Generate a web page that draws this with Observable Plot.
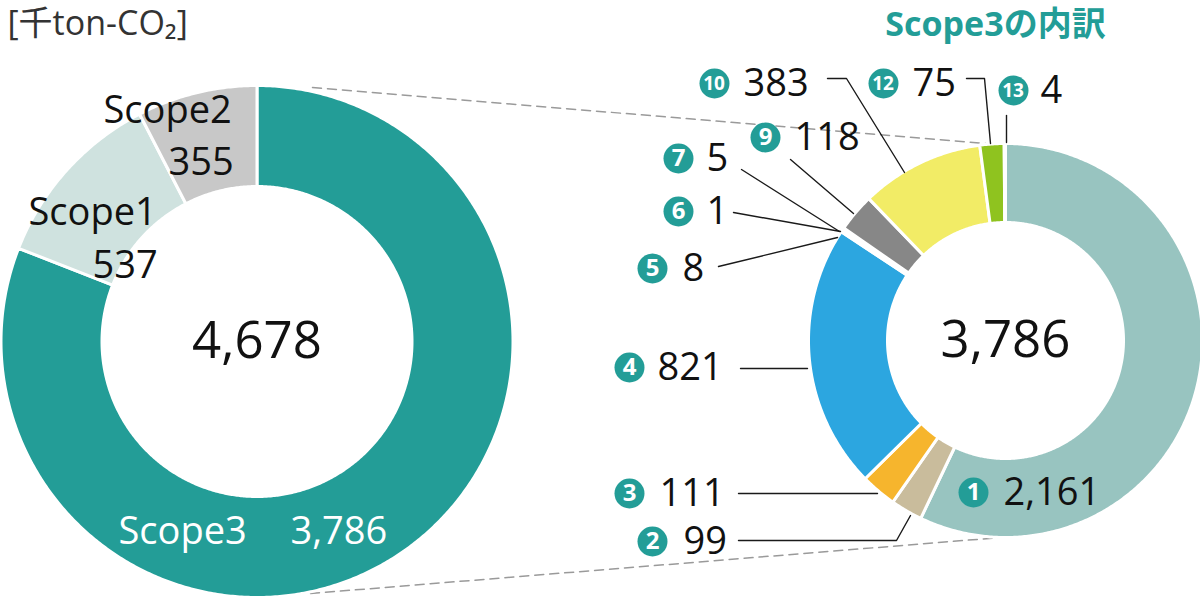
<!DOCTYPE html>
<html><head><meta charset="utf-8">
<script src="https://cdn.jsdelivr.net/npm/d3@7"></script>
<script src="https://cdn.jsdelivr.net/npm/@observablehq/plot@0.6"></script>
<style>body{margin:0;background:#fff;} svg{display:block}</style>
</head><body><div id="chart"></div>
<script>
// ---- data ----
const scopeNames = ["Scope3", "Scope1", "Scope2"];
const scopeValues = [3786, 537, 355];
const scopeColors = ["#239d97", "#cfe2df", "#c8c8c8"];
const catIds = ["1", "2", "3", "4", "5", "6", "7", "9", "10", "12", "13"];
const catValues = [2161, 99, 111, 821, 8, 1, 5, 118, 383, 75, 4];
const catColors = ["#98c4c0", "#c9bc9c", "#f6b52d", "#2ca6e0", "#ffffff", "#ffffff", "#ffffff", "#878787", "#f2ec66", "#8fc31f", "#ffffff"];
const unitLabel = "[千ton-CO₂]";
const breakdownTitle = "Scope3の内訳";

// ---- layout ----
const leftRing = {cx: 256.5, cy: 341, r0: 155, r1: 256};
const rightRing = {cx: 1005, cy: 340, r0: 118, r1: 197};
const labelLayout = {
  "1": {cx: 973, cy: 492, tx: 1003, line: []},
  "2": {cx: 652, cy: 541, tx: 683, line: [[738, 540], [896, 540], [910, 515]]},
  "3": {cx: 629, cy: 493, tx: 659, line: [[738, 493], [877, 493]]},
  "4": {cx: 629, cy: 367, tx: 657, line: [[740, 368], [807, 368]]},
  "5": {cx: 652, cy: 268, tx: 682, line: [[718, 266], [837, 237]]},
  "6": {cx: 678, cy: 211, tx: 706, line: [[733, 212], [840, 231]]},
  "7": {cx: 678, cy: 158, tx: 706, line: [[741, 169], [839, 231]]},
  "9": {cx: 765, cy: 137, tx: 794, line: [[790, 159], [853, 213]]},
  "10": {cx: 714, cy: 83, tx: 743, line: [[827, 78], [846, 78], [904, 172]]},
  "12": {cx: 883, cy: 83, tx: 912, line: [[966, 78], [984, 78], [990, 143]]},
  "13": {cx: 1013, cy: 90, tx: 1040, line: [[1006, 115], [1006, 142]]}
};
const scopeLabelLayout = {
  "Scope2": {namePos: [103, 110], valuePos: [168, 162], ink: "#111"},
  "Scope1": {namePos: [28, 212], valuePos: [92, 265], ink: "#111"},
  "Scope3": {namePos: [118, 531], valuePos: [290, 531], ink: "#fff"}
};
const dashLayout = [[[312, 87], [985, 143]], [[310, 593], [1000, 537]]];

const fmt = d3.format(",");

function ringPoints(values, ids, colors, ring) {
  const arcs = d3.pie().sort(null).value(d => d)(values);
  const pts = [];
  arcs.forEach((a, i) => {
    const n = Math.max(2, Math.ceil((a.endAngle - a.startAngle) / (Math.PI / 360)));
    for (let k = 0; k <= n; k++) {
      const t = a.startAngle + (a.endAngle - a.startAngle) * k / n;
      pts.push({id: ids[i], color: colors[i], x: ring.cx + ring.r1 * Math.sin(t), y: ring.cy - ring.r1 * Math.cos(t)});
    }
    for (let k = n; k >= 0; k--) {
      const t = a.startAngle + (a.endAngle - a.startAngle) * k / n;
      pts.push({id: ids[i], color: colors[i], x: ring.cx + ring.r0 * Math.sin(t), y: ring.cy - ring.r0 * Math.cos(t)});
    }
  });
  return pts;
}

const leftPts = ringPoints(scopeValues, scopeNames, scopeColors, leftRing);
const rightPts = ringPoints(catValues, catIds, catColors, rightRing);

const labels = catIds.map((id, i) => ({id, value: fmt(catValues[i]), ...labelLayout[id]}));
const leaderPts = labels.flatMap(d => d.line.map(([x, y]) => ({id: d.id, x, y})));
const dashPts = dashLayout.flatMap((seg, i) => seg.map(([x, y]) => ({id: i, x, y})));
const scopeLabels = scopeNames.map((n, i) => ({name: n, value: fmt(scopeValues[i]), ...scopeLabelLayout[n]}));

const leftTotal = fmt(d3.sum(scopeValues));
const rightTotal = fmt(d3.sum(catValues));

const font = '"Open Sans","Noto Sans CJK JP",sans-serif';
const teal = "#239d97";

const chart = Plot.plot({
  width: 1200, height: 603,
  marginTop: 0, marginRight: 0, marginBottom: 0, marginLeft: 0,
  x: {domain: [0, 1200], range: [0, 1200], axis: null},
  y: {domain: [0, 603], range: [0, 603], axis: null},
  color: {type: "identity"},
  style: {fontFamily: font, background: "#fff", overflow: "visible"},
  marks: [
    Plot.line(dashPts, {x: "x", y: "y", z: "id", stroke: "#9a9a9a", strokeWidth: 1.5, strokeDasharray: "9,6"}),
    Plot.line(leftPts, {x: "x", y: "y", z: "id", fill: "color", stroke: "white", strokeWidth: 3, curve: "linear-closed"}),
    Plot.line(rightPts, {x: "x", y: "y", z: "id", fill: "color", stroke: "white", strokeWidth: 3, curve: "linear-closed"}),
    Plot.line(leaderPts, {x: "x", y: "y", z: "id", stroke: "#1a1a1a", strokeWidth: 1.4}),
    Plot.dot(labels, {x: "cx", y: "cy", r: 15, fill: teal, stroke: null}),
    Plot.text(labels.filter(d => d.id.length === 1), {x: "cx", y: "cy", text: "id", fill: "white", fontWeight: "bold", fontSize: 24}),
    Plot.text(labels.filter(d => d.id.length === 2), {x: "cx", y: "cy", text: "id", fill: "white", fontWeight: "bold", fontSize: 19, dx: -0.5}),
    Plot.text(labels, {x: "tx", y: "cy", text: "value", textAnchor: "start", fontSize: 38, fill: "#111"}),
    Plot.text(scopeLabels, {x: d => d.namePos[0], y: d => d.namePos[1], text: "name", textAnchor: "start", fontSize: 38, fill: "ink"}),
    Plot.text(scopeLabels, {x: d => d.valuePos[0], y: d => d.valuePos[1], text: "value", textAnchor: "start", fontSize: 38, fill: "ink"}),
    Plot.text([leftTotal], {x: () => leftRing.cx, y: () => leftRing.cy, text: d => d, fontSize: 51, fill: "#111"}),
    Plot.text([rightTotal], {x: () => rightRing.cx, y: () => rightRing.cy, text: d => d, fontSize: 51, fill: "#111"}),
    Plot.text([unitLabel], {x: () => 7, y: () => 24, text: d => d, textAnchor: "start", fontSize: 34, fill: "#333"}),
    Plot.text([breakdownTitle], {x: () => 995, y: () => 25, text: d => d, fontSize: 34, fontWeight: "bold", fill: teal})
  ]
});
document.getElementById("chart").appendChild(chart);
</script>
</body></html>
